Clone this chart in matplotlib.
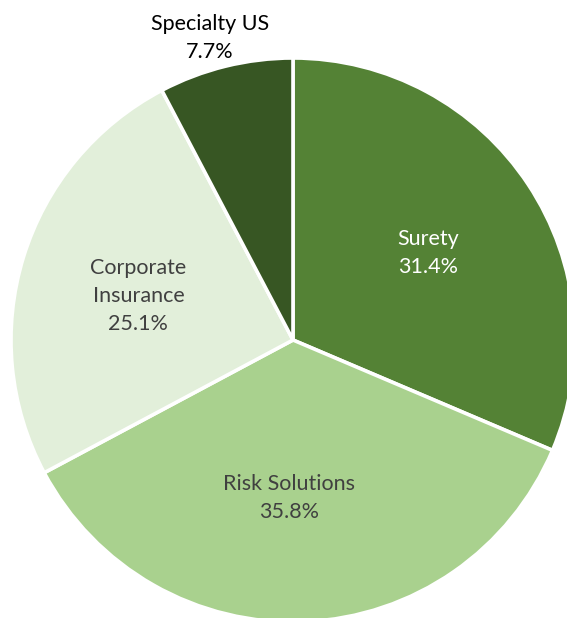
import numpy as np
import matplotlib.pyplot as plt

# segment shares (%)
segments = ['Surety', 'Risk Solutions', 'Corporate\nInsurance', 'Specialty US']
shares = [31.4, 35.8, 25.1, 7.7]
colors = ['#548235', '#A9D18E', '#E2EFDA', '#375623']
txt_colors = ['white', '#404040', '#404040', 'black']

# label placement (radius, angle offset from wedge middle in deg)
lab_r = [0.57, 0.56, 0.57, 1.11]
lab_off = [-0.7, -4.0, 1.2, 1.5]

fig = plt.figure(figsize=(5.67, 6.18), dpi=100)
ax = fig.add_axes([0, 0, 1, 1])

wedges, _ = ax.pie(shares, colors=colors, startangle=90, counterclock=False,
                   radius=1, wedgeprops=dict(edgecolor='white', linewidth=2.6))

for i, w in enumerate(wedges):
    mid = np.deg2rad((w.theta1 + w.theta2) / 2 + lab_off[i])
    r = lab_r[i]
    ax.text(r * np.cos(mid), r * np.sin(mid), '%s\n%.1f%%' % (segments[i], shares[i]),
            ha='center', va='center', fontsize=15.5, family='Lato',
            color=txt_colors[i], linespacing=1.52)

# pie sits slightly outside the canvas on the right and bottom
ax.set_xlim(-293/282, (567-293)/282)
ax.set_ylim(-(618-340)/282, 340/282)
ax.set_aspect('equal')
ax.axis('off')

fig.savefig('out.png', dpi=100)
